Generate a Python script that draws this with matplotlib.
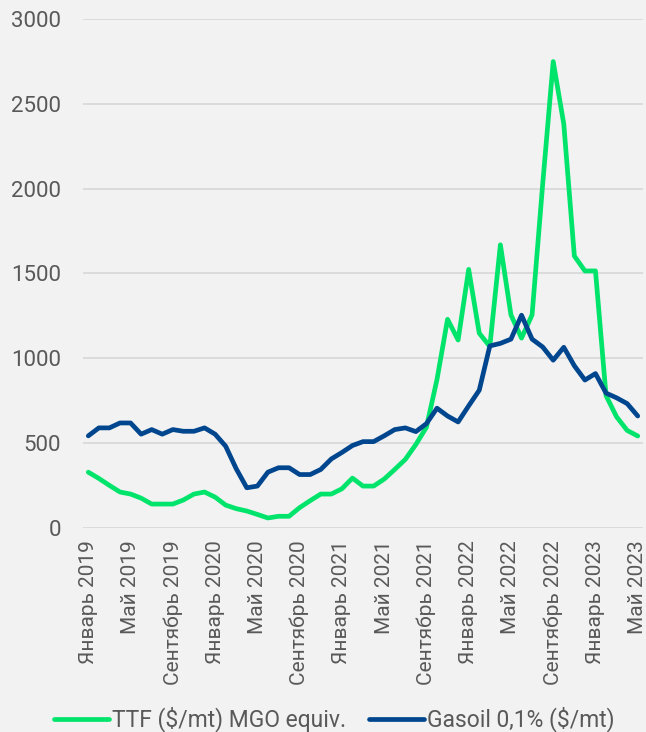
import matplotlib
matplotlib.use("Agg")
from matplotlib import pyplot as plt

months_ru = ["Январь", "Февраль", "Март", "Апрель", "Май", "Июнь", "Июль",
             "Август", "Сентябрь", "Октябрь", "Ноябрь", "Декабрь"]
dates = [f"{months_ru[m]} {y}" for y in range(2019, 2024) for m in range(12)][:53]

ttf = [329, 292, 251, 212, 200, 176, 141, 141, 141, 165, 200, 212,
       182, 135, 114, 100, 80, 59, 69, 69, 120, 161, 200, 200,
       231, 294, 247, 247, 288, 345, 404, 492, 594, 875, 1230, 1108,
       1524, 1148, 1070, 1669, 1256, 1119, 1256, 2024, 2749, 2381, 1603, 1515,
       1515, 780, 655, 575, 542]
gasoil = [543, 590, 590, 619, 619, 553, 580, 553, 580, 570, 570, 590,
          553, 482, 349, 237, 247, 329, 355, 355, 315, 315, 345, 407,
          445, 486, 509, 509, 543, 580, 590, 568, 615, 706, 660, 625,
          720, 812, 1073, 1088, 1113, 1254, 1113, 1067, 989, 1065, 956, 872,
          910, 795, 767, 733, 660]

GREEN = "#00E46B"
BLUE = "#00468E"
GREY = "#595959"
BG = "#F2F2F2"

plt.rcParams["font.family"] = ["Roboto", "DejaVu Sans"]

fig = plt.figure(figsize=(6.46, 7.32), dpi=100, facecolor=BG)
ax = fig.add_axes([0.1285, 0.2787, 0.8669, 0.6954], facecolor=BG)

x = list(range(len(dates)))
ax.plot(x, ttf, color=GREEN, lw=3.4, solid_joinstyle="round",
        solid_capstyle="round", label="TTF ($/mt) MGO equiv.", zorder=3)
ax.plot(x, gasoil, color=BLUE, lw=3.4, solid_joinstyle="round",
        solid_capstyle="round", label="Gasoil 0,1% ($/mt)", zorder=4)

ax.set_xlim(-0.5, len(dates) - 0.5)
ax.set_ylim(0, 3000)
ax.set_yticks(range(0, 3001, 500))
ax.set_xticks(x[::4])
ax.set_xticklabels(dates[::4], rotation=90)
ax.grid(axis="y", color="#D9D9D9", lw=1.3)
ax.set_axisbelow(True)
for s in ax.spines.values():
    s.set_visible(False)
ax.tick_params(axis="both", length=0, labelcolor=GREY)
ax.tick_params(axis="x", pad=9, labelsize=15)
ax.tick_params(axis="y", pad=16, labelsize=16)

fig.legend(loc="center", bbox_to_anchor=(0.517, 0.017), ncol=2, frameon=False,
           fontsize=16.5, labelcolor=GREY, handlelength=2.4, handletextpad=0.13,
           columnspacing=1.0)

fig.savefig("out.png", dpi=100, facecolor=BG)
